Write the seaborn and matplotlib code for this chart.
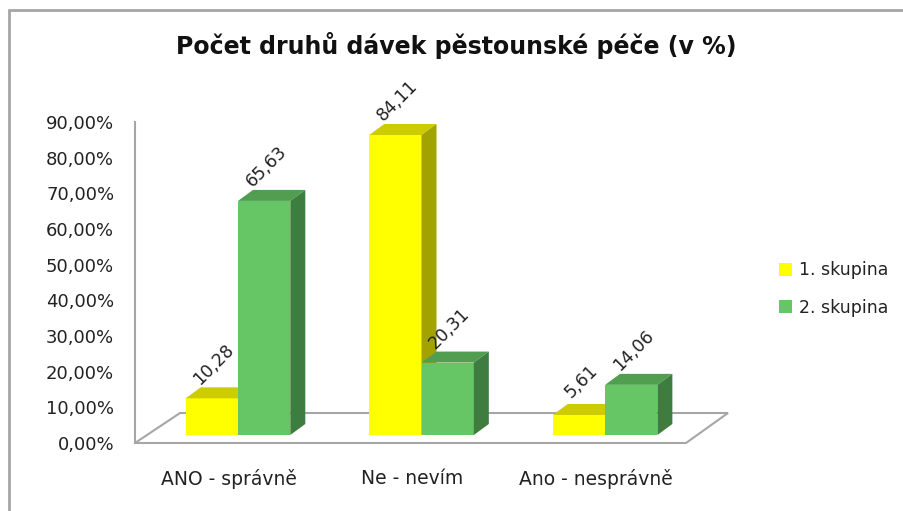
import matplotlib
matplotlib.use("Agg")
import matplotlib.pyplot as plt
import matplotlib.transforms as mtransforms
from matplotlib.patches import Polygon, Patch
from matplotlib.lines import Line2D
import pandas as pd
import seaborn as sns

categories = ["ANO - správně", "Ne - nevím", "Ano - nesprávně"]
groups = ["1. skupina", "2. skupina"]
group1 = [10.28, 84.11, 5.61]
group2 = [65.63, 20.31, 14.06]
value_labels = [["10,28", "84,11", "5,61"], ["65,63", "20,31", "14,06"]]
y_ticks = [0, 10, 20, 30, 40, 50, 60, 70, 80, 90]

front_colors = ["#ffff00", "#66c666"]
top_colors = ["#cccc00", "#519e51"]
side_colors = ["#a3a300", "#3f7c3f"]

df = pd.DataFrame({
    "kategorie": categories * 2,
    "skupina": [groups[0]] * 3 + [groups[1]] * 3,
    "hodnota": group1 + group2,
})

sns.set_style("white")
plt.rcParams["font.family"] = ["DejaVu Sans"]

W, H = 904, 511
fig = plt.figure(figsize=(W / 100, H / 100), dpi=100)
ax = fig.add_axes([135 / W, (H - 443) / H, (686 - 135) / W, (443 - 122) / H])

sns.barplot(data=df, x="kategorie", y="hodnota", hue="skupina",
            palette=front_colors, width=0.57, gap=0, saturation=1,
            legend=False, ax=ax)

ax.set_xlim(-0.561, 2.441)
ax.set_ylim(0, 90)
ax.set_yticks(y_ticks)
ax.set_yticklabels([f"{t},00%" for t in y_ticks])
ax.set_xlabel("")
ax.set_ylabel("")
for s in ["top", "right", "bottom"]:
    ax.spines[s].set_visible(False)
ax.spines["left"].set_color("#a6a6a6")
ax.spines["left"].set_linewidth(1.5)
ax.tick_params(axis="y", length=0, pad=15, labelsize=13, labelcolor="#222222")
ax.tick_params(axis="x", length=0, pad=19, labelsize=13.5, labelcolor="#222222")
for lab in ax.get_xticklabels():
    lab.set_transform(lab.get_transform() + mtransforms.ScaledTranslation(-0.09, 0, fig.dpi_scale_trans))

# floor of the 3D chart
ident = mtransforms.IdentityTransform()
fl = ax.transAxes.transform((0, 0))
fr = ax.transAxes.transform((1, 0))
floor = [(fl[0], fl[1]), (fr[0], fr[1]), (fr[0] + 42, fr[1] + 30), (fl[0] + 45, fl[1] + 30)]
ax.add_patch(Polygon(floor, closed=True, facecolor="white", edgecolor="#a6a6a6",
                     lw=1.5, transform=ident, clip_on=False, zorder=0.5))

# bars lifted to mid depth plus top and side faces
lift = 8
dx, dy = 15, 11
offset = mtransforms.ScaledTranslation(0, lift / 100, fig.dpi_scale_trans)
for gi, cont in enumerate(ax.containers):
    z = 2 + gi
    for bi, bar in enumerate(cont):
        bar.set_transform(ax.transData + offset)
        bar.set_zorder(z)
        bar.set_edgecolor("none")
        x0, x1 = bar.get_x(), bar.get_x() + bar.get_width()
        h = bar.get_height()
        (px0, py0) = ax.transData.transform((x0, 0))
        (px1, py1) = ax.transData.transform((x1, h))
        py0 += lift
        py1 += lift
        top = [(px0, py1), (px1, py1), (px1 + dx, py1 + dy), (px0 + dx, py1 + dy)]
        side = [(px1, py0), (px1, py1), (px1 + dx, py1 + dy), (px1 + dx, py0 + dy)]
        ax.add_patch(Polygon(top, closed=True, facecolor=top_colors[gi], edgecolor="none",
                             transform=ident, clip_on=False, zorder=z))
        ax.add_patch(Polygon(side, closed=True, facecolor=side_colors[gi], edgecolor="none",
                             transform=ident, clip_on=False, zorder=z))
        ax.annotate(value_labels[gi][bi], xy=((px0 + px1) / 2, py1), xycoords=ident,
                    xytext=(2, 34), textcoords="offset pixels", rotation=45,
                    rotation_mode="anchor", ha="center", va="center",
                    fontsize=12.5, color="#222222", zorder=5, annotation_clip=False)

fig.text(0.505, (H - 45) / H, "Počet druhů dávek pěstounské péče (v %)",
         ha="center", va="center", fontsize=17, fontweight="bold", color="#111111")

handles = [Patch(facecolor=c, edgecolor="none") for c in front_colors]
fig.legend(handles, groups, loc="center left", bbox_to_anchor=(763 / W, (H - 289) / H),
           frameon=False, fontsize=12.5, handlelength=0.75, handleheight=0.75,
           handletextpad=0.45, labelspacing=1.1, labelcolor="#222222")

# outer chart border (top and left only)
fig.add_artist(Line2D([9 / W, 1], [(H - 10) / H, (H - 10) / H], color="#a6a6a6", lw=2,
                      transform=fig.transFigure))
fig.add_artist(Line2D([9 / W, 9 / W], [0, (H - 10) / H], color="#a6a6a6", lw=2,
                      transform=fig.transFigure))

fig.savefig("out.png", dpi=100)
